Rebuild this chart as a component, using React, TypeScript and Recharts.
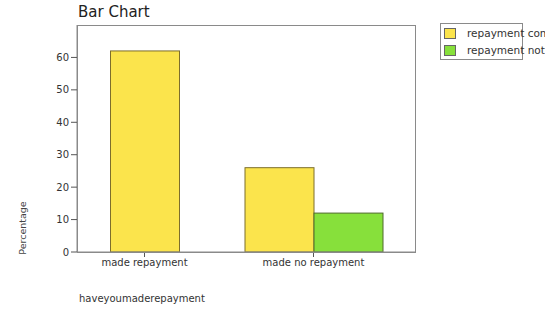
import { BarChart, Bar, XAxis, YAxis } from "recharts";

const categories = ["made repayment", "made no repayment"];
const completed = [62, 26];
const notCompleted = [null, 12];
const yTicks = [0, 10, 20, 30, 40, 50, 60];
const seriesNames = ["repayment completed", "repayment not completed"];

const data = categories.map((name, i) => ({
  name,
  completed: completed[i],
  notCompleted: notCompleted[i],
}));

const FONT = "'DejaVu Sans', Verdana, sans-serif";
const YELLOW = "#fbe44c";
const GREEN = "#87e03b";
const FRAME = "#8a8a8a";

// SPSS centres a lone bar in its category; shift when the partner is missing
function CenteredBar(props: any) {
  const { x, y, width, height, fill, stroke, payload } = props;
  if (!height || height <= 0) return null;
  const shift = payload.notCompleted == null ? width / 2 : 0;
  return <rect x={x + shift} y={y} width={width} height={height} fill={fill} stroke={stroke} strokeWidth={1} />;
}

export default function App() {
  return (
    <div style={{ position: "absolute", left: 0, top: 0, width: 545, height: 310, background: "#fff", fontFamily: FONT, overflow: "hidden" }}>
      <div style={{ position: "absolute", left: 78, top: 3, fontSize: 15, color: "#222" }}>Bar Chart</div>
      <BarChart
        width={545}
        height={310}
        data={data}
        margin={{ top: 25, right: 130, bottom: 28, left: 37 }}
        barCategoryGap={16}
        barGap={0}
      >
        <XAxis
          dataKey="name"
          padding={{ left: -17, right: 17 }}
          height={30}
          tickSize={5}
          tickLine={{ stroke: "#555" }}
          axisLine={{ stroke: FRAME }}
          tick={{ fontSize: 10, fill: "#333", fontFamily: FONT }}
        />
        <YAxis
          domain={[0, 70]}
          ticks={yTicks}
          width={40}
          tickSize={6}
          tickLine={{ stroke: "#555" }}
          axisLine={{ stroke: FRAME }}
          tick={{ fontSize: 10, fill: "#333", fontFamily: FONT }}
        />
        <Bar dataKey="completed" fill={YELLOW} stroke="#7d6e2c" shape={CenteredBar} isAnimationActive={false} />
        <Bar dataKey="notCompleted" fill={GREEN} stroke="#4f6b2c" shape={CenteredBar} isAnimationActive={false} />
      </BarChart>
      {/* plot frame */}
      <div style={{ position: "absolute", left: 77, top: 25, width: 339, height: 228, border: `1px solid ${FRAME}`, boxSizing: "border-box", pointerEvents: "none" }} />
      <div
        style={{
          position: "absolute",
          left: 22,
          top: 228,
          transform: "translate(-50%, -50%) rotate(-90deg)",
          fontSize: 9.5,
          color: "#444",
          whiteSpace: "nowrap",
        }}
      >
        Percentage
      </div>
      <div style={{ position: "absolute", left: 79, top: 293, fontSize: 10, color: "#333" }}>haveyoumaderepayment</div>
      <div style={{ position: "absolute", left: 440, top: 23, width: 83, height: 37, border: `1px solid ${FRAME}`, boxSizing: "border-box" }} />
      <div style={{ position: "absolute", left: 444, top: 25, fontSize: 10.5, color: "#333", whiteSpace: "nowrap", lineHeight: "16px" }}>
        {seriesNames.map((n, i) => (
          <div key={n} style={{ display: "flex", alignItems: "center", height: 16, marginBottom: 1 }}>
            <span style={{ width: 10, height: 9, background: i === 0 ? YELLOW : GREEN, border: "1px solid #666", marginRight: 11, display: "inline-block" }} />
            {n}
          </div>
        ))}
      </div>
    </div>
  );
}
